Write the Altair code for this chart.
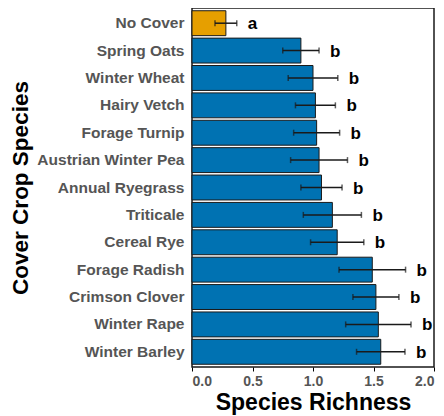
import altair as alt
import pandas as pd

species = ["No Cover", "Spring Oats", "Winter Wheat", "Hairy Vetch", "Forage Turnip",
           "Austrian Winter Pea", "Annual Ryegrass", "Triticale", "Cereal Rye",
           "Forage Radish", "Crimson Clover", "Winter Rape", "Winter Barley"]
richness = [0.28, 0.90, 1.00, 1.02, 1.03, 1.05, 1.07, 1.16, 1.20, 1.49, 1.52, 1.54, 1.56]
errors = [0.09, 0.15, 0.205, 0.165, 0.19, 0.235, 0.17, 0.24, 0.22, 0.275, 0.19, 0.27, 0.20]
letters = ["a", "b", "b", "b", "b", "b", "b", "b", "b", "b", "b", "b", "b"]
group = ["none"] + ["cover"] * 12

df = pd.DataFrame({"species": species, "richness": richness, "err": errors,
                   "letter": letters, "group": group})
df["lo"] = df["richness"] - df["err"]
df["hi"] = df["richness"] + df["err"]

FONT = "Liberation Sans"

y_enc = alt.Y("species:N", sort=species,
              scale=alt.Scale(paddingInner=0.09, paddingOuter=0.1),
              axis=alt.Axis(title="Cover Crop Species", titleFontSize=22.5, titleFont=FONT,
                            titleFontWeight="bold", titleColor="black", titlePadding=4,
                            labelFont=FONT, labelFontSize=15.5, labelFontWeight="bold",
                            labelColor="#555555", ticks=False, domain=False, labelPadding=8))

x_scale = alt.Scale(domain=[0, 2], nice=False)

bars = alt.Chart(df).mark_bar(stroke="#1a1a1a", strokeWidth=1).encode(
    x=alt.X("richness:Q", scale=x_scale,
            axis=alt.Axis(title="Species Richness", values=[0, 0.5, 1.0, 1.5, 2.0],
                          format=".1f", titleFontSize=23, titleFont=FONT,
                          titleFontWeight="bold", titleColor="black", titlePadding=3,
                          labelFont=FONT, labelFontSize=14, labelColor="#555555",
                          labelFontWeight="bold", tickColor="black", tickSize=4,
                          domain=False, grid=False, labelPadding=3)),
    y=y_enc,
    color=alt.Color("group:N", scale=alt.Scale(domain=["none", "cover"],
                                               range=["#E69F00", "#0072B2"]), legend=None),
)

rules = alt.Chart(df).mark_rule(color="#1a1a1a", strokeWidth=1.5).encode(
    x=alt.X("lo:Q", scale=x_scale), x2="hi:Q", y=alt.Y("species:N", sort=species))

caps_lo = alt.Chart(df).mark_tick(color="#1a1a1a", orient="vertical", size=6, thickness=1.5).encode(
    x=alt.X("lo:Q", scale=x_scale), y=alt.Y("species:N", sort=species))
caps_hi = alt.Chart(df).mark_tick(color="#1a1a1a", orient="vertical", size=6, thickness=1.5).encode(
    x=alt.X("hi:Q", scale=x_scale), y=alt.Y("species:N", sort=species))

labels = alt.Chart(df).mark_text(align="left", baseline="middle", dx=11, dy=1,
                                 font=FONT, fontSize=17, fontWeight="bold",
                                 color="black").encode(
    x=alt.X("hi:Q", scale=x_scale), y=alt.Y("species:N", sort=species), text="letter:N")

chart = alt.layer(bars, rules, caps_lo, caps_hi, labels).properties(
    width=242, height=359,
    autosize=alt.AutoSizeParams(type="none"),
    padding={"left": 184, "top": 0, "right": 2, "bottom": 49},
).configure_view(stroke="#1a1a1a", strokeWidth=1.5)

chart.save("out.html", embed_options={"renderer": "svg", "actions": False})
